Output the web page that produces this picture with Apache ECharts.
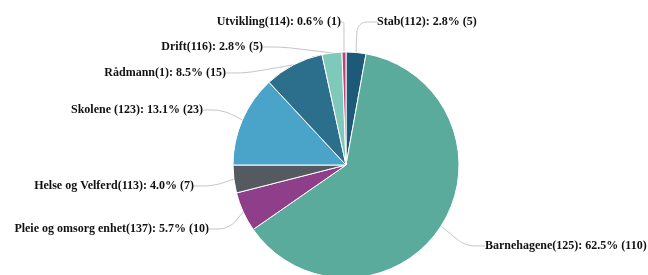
<!DOCTYPE html>
<html><head><meta charset="utf-8">
<script src="https://cdn.jsdelivr.net/npm/echarts@6/dist/echarts.min.js"></script>
<style>html,body{margin:0;padding:0;background:#fff}#c{width:648px;height:275px}</style>
</head><body><div id="c"></div>
<script>
const names = ["Stab(112)", "Barnehagene(125)", "Pleie og omsorg enhet(137)", "Helse og Velferd(113)", "Skolene (123)", "Rådmann(1)", "Drift(116)", "Utvikling(114)"];
const values = [5, 110, 10, 7, 23, 15, 5, 1];
const percents = ["2.8", "62.5", "5.7", "4.0", "13.1", "8.5", "2.8", "0.6"];
const colors = ["#1d5a78", "#5aab9c", "#8f3f8a", "#555a60", "#4aa3c8", "#2c6f8c", "#7ec9ba", "#c0437a"];

// label anchor placement (layout only)
const labelPos = [
  {x: 373, y: 22, align: 'left'},
  {x: 481, y: 246, align: 'left'},
  {x: 213, y: 229, align: 'right'},
  {x: 198, y: 186, align: 'right'},
  {x: 207, y: 110, align: 'right'},
  {x: 230, y: 73, align: 'right'},
  {x: 267, y: 47, align: 'right'},
  {x: 345, y: 22, align: 'right'}
];

const chart = echarts.init(document.getElementById('c'), null, {renderer: 'canvas'});
chart.setOption({
  animation: false,
  backgroundColor: '#fff',
  series: [{
    type: 'pie',
    center: [346, 165],
    radius: 113,
    startAngle: 90,
    clockwise: true,
    data: names.map((n, i) => ({name: n, value: values[i], itemStyle: {color: colors[i]}})),
    itemStyle: {borderColor: '#fff', borderWidth: 1},
    label: {
      show: true,
      fontFamily: 'Liberation Serif',
      fontWeight: 'bold',
      fontSize: 12,
      color: '#111',
      overflow: 'none',
      padding: [0, 4],
      formatter: p => p.name + ': ' + percents[p.dataIndex] + '% (' + p.value + ')'
    },
    labelLine: {show: true, length: 20, length2: 20, smooth: 0.3, lineStyle: {color: '#c4c4c4', width: 1}},
    labelLayout: function (params) {
      const p = labelPos[params.dataIndex];
      return {x: p.x, y: p.y, align: p.align, verticalAlign: 'middle', hideOverlap: false};
    }
  }]
});
</script></body></html>
